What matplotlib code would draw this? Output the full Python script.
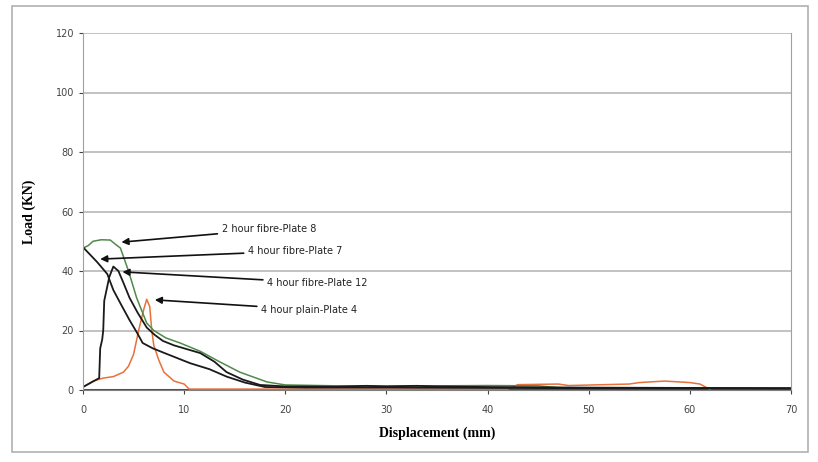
import matplotlib.pyplot as plt
from matplotlib.patches import Rectangle

# Load-displacement curves (displacement mm, load kN)
p8_x = [0, 0.5, 1.0, 1.8, 2.7, 3.2, 3.7, 4.5, 5.3, 6.3, 7.0, 8.2, 9.6, 11.6, 13.5, 15.5, 18.2, 20, 25, 30, 35, 40, 45, 47, 50, 70]
p8_y = [47.7, 48.5, 50, 50.5, 50.4, 49, 47.7, 40, 31, 22.5, 20, 17.5, 15.8, 13, 9.5, 6, 2.7, 1.7, 1.4, 1.3, 1.4, 1.5, 1.4, 0.8, 0.6, 0.6]

p7_x = [0, 0.7, 1.4, 2.4, 3.0, 3.8, 4.6, 5.3, 5.9, 6.9, 8.0, 10.6, 12.5, 14.2, 16, 18, 22, 30, 40, 50, 70]
p7_y = [48, 45.5, 43, 39, 33.6, 28.5, 23.5, 19.5, 15.8, 14, 12.5, 9, 7, 4.5, 2.5, 1, 0.8, 0.8, 0.7, 0.6, 0.5]

p12_x = [0, 0.8, 1.6, 1.7, 1.9, 2.0, 2.1, 2.6, 3.0, 3.5, 4.0, 4.6, 5.4, 6.3, 7.1, 7.9, 9.0, 10.0, 11.6, 13, 14.2, 15.8, 17.5, 20, 25, 28, 30, 33, 35, 40, 50, 70]
p12_y = [1, 2.5, 4, 14, 17, 20, 30, 38, 41.5, 40, 36, 31, 26, 21, 18.5, 16.5, 15, 14, 12.4, 9.5, 6, 3.5, 1.7, 1.2, 1.1, 1.4, 1.2, 1.4, 1.2, 1.0, 0.8, 0.6]

p4_x = [0, 1, 2, 3, 4, 4.5, 5, 5.5, 6, 6.3, 6.6, 6.8, 7.0, 7.5, 8, 9, 10, 10.5, 18, 42, 43, 47, 48, 54, 55, 57.5, 60, 61, 62]
p4_y = [1, 3, 4, 4.5, 6, 8, 12, 20, 27, 30.5, 28, 20, 15, 10, 6, 3, 2, 0.3, 0.3, 0.3, 1.8, 2, 1.5, 2, 2.5, 3, 2.5, 2, 0.2]

base_x = [0, 70]
base_y = [0, 0]

labels = ["2 hour fibre-Plate 8", "4 hour fibre-Plate 7", "4 hour fibre-Plate 12", "4 hour plain-Plate 4"]
label_xy = [(13.7, 54), (16.3, 46.7), (18.2, 36), (17.6, 27)]
arrow_tip = [(3.8, 49.7), (1.7, 44), (3.9, 39.7), (7.1, 30.3)]

fig = plt.figure(figsize=(8.18, 4.62), dpi=100)
fig.patches.append(Rectangle((12 / 818, 10 / 462), 796 / 818, 446 / 462, transform=fig.transFigure,
                             fill=False, edgecolor='#b0b0b0', linewidth=1.2))
ax = fig.add_axes([83 / 818, 72 / 462, 708 / 818, 357 / 462])

ax.plot(base_x, base_y, color='#505050', linewidth=2.2)
ax.plot(p4_x, p4_y, color='#e8703a', linewidth=1.1)
ax.plot(p8_x, p8_y, color='#4f8a4a', linewidth=1.1)
ax.plot(p7_x, p7_y, color='#1a1a1a', linewidth=1.3)
ax.plot(p12_x, p12_y, color='#1a1a1a', linewidth=1.3)

for lab, xy, tip in zip(labels, label_xy, arrow_tip):
    ax.annotate(lab, xy=tip, xytext=xy, fontsize=7, color='#222222', va='center', ha='left',
                arrowprops=dict(arrowstyle='-|>', color='#111111', lw=1.2, mutation_scale=10,
                                shrinkA=1, shrinkB=0))

ax.set_xlim(0, 70)
ax.set_ylim(0, 120)
ax.set_xticks(range(0, 71, 10))
ax.set_yticks(range(0, 121, 20))
ax.yaxis.grid(True, color='#b8b8b8', linewidth=1.2)
ax.set_axisbelow(True)
ax.spines['top'].set_visible(False)
ax.spines['left'].set_color('#a0a0a0')
ax.spines['right'].set_color('#a0a0a0')
ax.spines['bottom'].set_color('#808080')
ax.tick_params(axis='both', labelsize=7, colors='#444444', length=3, width=0.8)
ax.tick_params(axis='x', pad=8)

ax.set_xlabel('Displacement (mm)', fontsize=10, fontweight='bold', family='Liberation Serif', labelpad=8)
ax.set_ylabel('Load (KN)', fontsize=10, fontweight='bold', family='Liberation Serif', labelpad=14)

plt.savefig('out.png', dpi=100)
